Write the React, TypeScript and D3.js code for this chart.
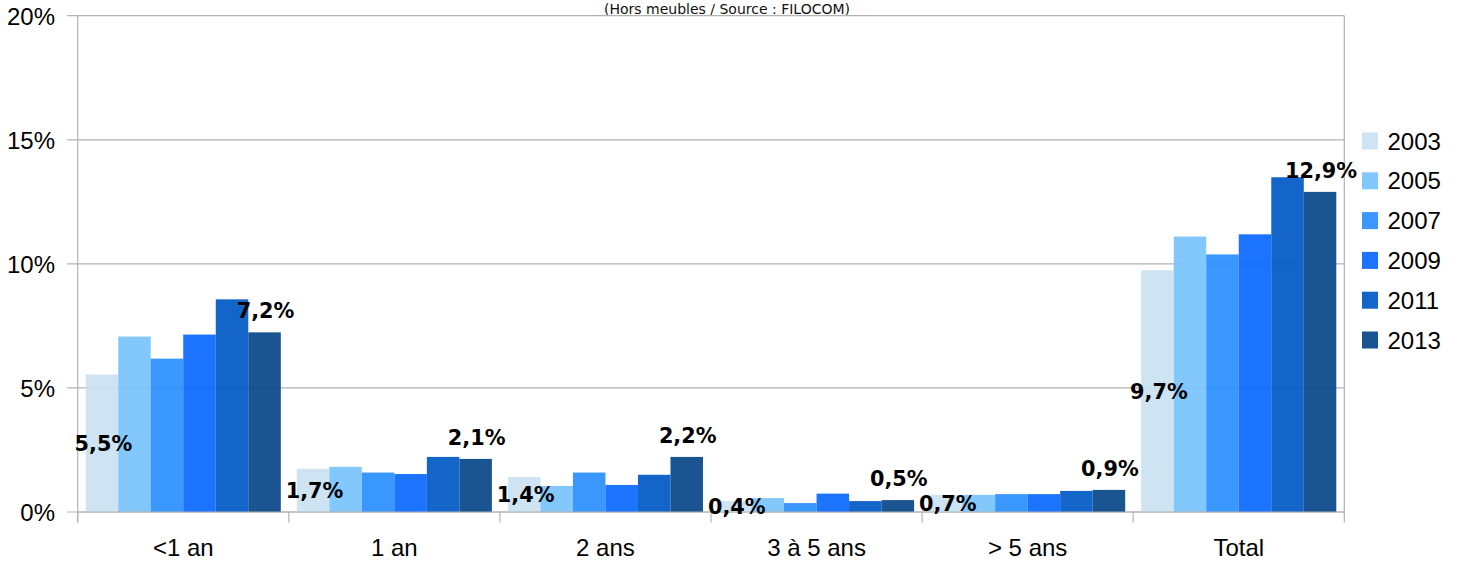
import * as d3 from 'd3';

const categories = ['<1 an', '1 an', '2 ans', '3 à 5 ans', '> 5 ans', 'Total'];
const years = ['2003', '2005', '2007', '2009', '2011', '2013'];

// one list per year, in category order (percent)
const v2003 = [5.54, 1.74, 1.41, 0.44, 0.69, 9.74];
const v2005 = [7.07, 1.82, 1.05, 0.56, 0.69, 11.1];
const v2007 = [6.18, 1.59, 1.59, 0.36, 0.72, 10.38];
const v2009 = [7.15, 1.53, 1.09, 0.74, 0.72, 11.19];
const v2011 = [8.57, 2.22, 1.5, 0.44, 0.85, 13.49];
const v2013 = [7.24, 2.14, 2.22, 0.48, 0.89, 12.9];
const series = [v2003, v2005, v2007, v2009, v2011, v2013];

const yTicks = [0, 5, 10, 15, 20];
const colors = ['#cbe2f2', '#78c3fd', '#288efd', '#0967fd', '#0058c4', '#074689'];

const title = '(Hors meubles / Source : FILOCOM)';

const W = 1459;
const H = 562;
const left = 77.7;
const right = 1344.3;
const top = 15.7;
const bottom = 512;

const fmt = (v: number) => v.toFixed(1).replace('.', ',') + '%';

const App = () => {
  const x0 = d3.scaleBand<string>().domain(categories).range([left, right]);
  const x1 = d3.scaleBand<string>().domain(years).range([8, x0.bandwidth() - 8]);
  const y = d3.scaleLinear().domain([0, 20]).range([bottom, top]);

  const axisFont = { fontFamily: 'Liberation Sans', fontSize: 24 };
  const labelFont = { fontFamily: 'DejaVu Sans', fontSize: 20.8, fontWeight: 'bold' as const };
  const grid = '#b3b3b3';

  return (
    <svg width={W} height={H} style={{ position: 'absolute', left: 0, top: 0 }}>
      <text x={727} y={13.5} textAnchor='middle' fontFamily='DejaVu Sans' fontSize={14} fill='#111'>
        {title}
      </text>

      {/* grid + y ticks */}
      {yTicks.map((t) => (
        <g key={t}>
          <line x1={67} x2={right} y1={y(t)} y2={y(t)} stroke={grid} strokeWidth={1.2} />
          <text x={55} y={y(t) + 9} textAnchor='end' {...axisFont}>
            {t + '%'}
          </text>
        </g>
      ))}

      {/* bars */}
      {series.map((vals, si) =>
        vals.map((v, ci) => (
          <rect
            key={si + '-' + ci}
            x={x0(categories[ci])! + x1(years[si])!}
            y={y(v)}
            width={x1.bandwidth()}
            height={bottom - y(v)}
            fill={colors[si]}
            fillOpacity={0.92}
          />
        ))
      )}

      {/* frame */}
      <line x1={left} x2={left} y1={top} y2={bottom + 10.5} stroke={grid} strokeWidth={1.2} />
      <line x1={right} x2={right} y1={top} y2={bottom + 10.5} stroke={grid} strokeWidth={1.2} />
      <line x1={left} x2={right} y1={bottom} y2={bottom} stroke={grid} strokeWidth={1.2} />
      {categories.map((c) => (
        <g key={c}>
          <line x1={x0(c)!} x2={x0(c)!} y1={bottom} y2={bottom + 10.5} stroke={grid} strokeWidth={1.2} />
          <text x={x0(c)! + x0.bandwidth() / 2} y={556} textAnchor='middle' {...axisFont}>
            {c}
          </text>
        </g>
      ))}

      {/* value labels: first year centered in bar, last year above bar */}
      {categories.map((c, ci) => (
        <g key={'lab' + c}>
          <text
            x={x0(c)! + x1(years[0])! + x1.bandwidth() / 2 + 1.5}
            y={y(v2003[ci] / 2) + 7.5}
            textAnchor='middle'
            {...labelFont}
          >
            {fmt(v2003[ci])}
          </text>
          <text
            x={x0(c)! + x1(years[5])! + x1.bandwidth() / 2 + 1}
            y={y(v2013[ci]) - 14}
            textAnchor='middle'
            {...labelFont}
          >
            {fmt(v2013[ci])}
          </text>
        </g>
      ))}

      {/* legend */}
      {years.map((yr, i) => (
        <g key={yr} transform={`translate(1362, ${141 + i * 39.8})`}>
          <rect x={0} y={-8.5} width={16} height={17} fill={colors[i]} fillOpacity={0.92} />
          <text x={25.5} y={8.5} {...axisFont}>
            {yr}
          </text>
        </g>
      ))}
    </svg>
  );
};

export default App;
